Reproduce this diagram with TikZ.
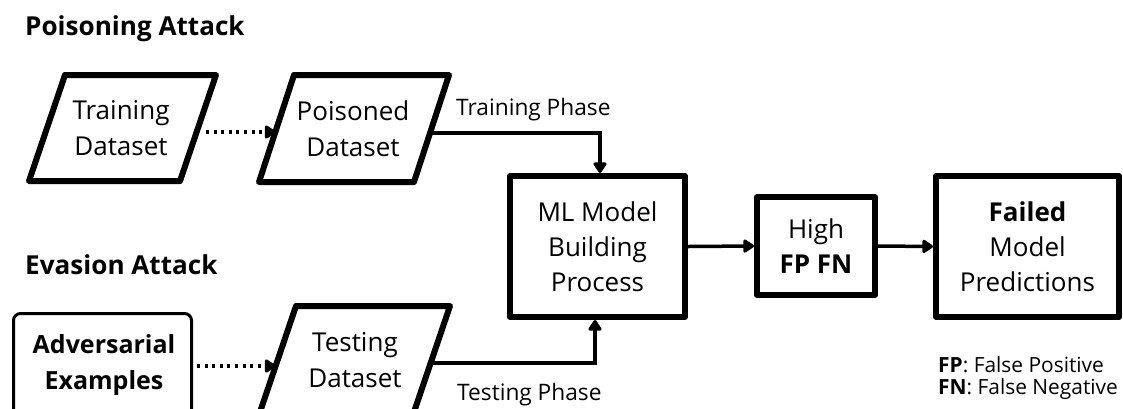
\documentclass[tikz,border=0pt]{standalone}
\usepackage{fontspec}
\setmainfont{Open Sans}
\usetikzlibrary{arrows.meta}
\begin{document}
\begin{tikzpicture}[x=1pt,y=-1pt,
  boxline/.style={line width=6pt,line join=round},
  procbox/.style={draw,boxline,rectangle,align=center,inner sep=0pt,
    font=\fontsize{26}{35}\selectfont},
  txt/.style={align=center,inner sep=0pt,font=\fontsize{26}{36}\selectfont},
  conn/.style={line width=3.5pt,-{Triangle[length=12pt,width=15pt,round]}},
  dotconn/.style={line width=3.5pt,dash pattern=on 3pt off 4.6pt,
    -{Triangle[length=12pt,width=15pt,round]}},
  lbl/.style={anchor=base west,inner sep=0pt,font=\fontsize{22.7}{26}\selectfont},
  legend/.style={anchor=base west,inner sep=0pt,font=\fontsize{20.9}{24}\selectfont},
  ttl/.style={anchor=base west,inner sep=0pt,font=\fontsize{26.1}{30}\selectfont\bfseries}
]
\useasboundingbox (0,0) rectangle (1123,408);
\begin{scope}
\clip (0,0) rectangle (1123,408);
% titles
\node[ttl] (t1) at (25,35) {Poisoning Attack};
\node[ttl] (t2) at (25,274) {Evasion Attack};

% parallelograms
\draw[boxline] (65,75) -- (216,75) -- (180,181) -- (29,181) -- cycle;
\node[txt] (train) at (121,128) {Training\\Dataset};
\draw[boxline] (294,75) -- (449,75) -- (414,182) -- (259,182) -- cycle;
\node[txt] (pois) at (353,129) {Poisoned\\Dataset};
\draw[boxline] (296,306) -- (450,306) -- (414,412) -- (260,412) -- cycle;
\node[txt] (test) at (355,360) {Testing\\Dataset};

% adversarial box
\draw[line width=3pt,rounded corners=7pt] (13.5,313.5) rectangle (191.5,420);
\node[txt,font=\fontsize{25}{36}\selectfont\bfseries] (adv) at (104,365) {Adversarial\\Examples};

% boxes
\node[procbox,minimum width=175pt,minimum height=141pt] (ml) at (597.5,246.5) {ML Model\\Building\\Process};
\node[procbox,minimum width=118pt,minimum height=98pt] (high) at (816,246) {High\\\textbf{FP FN}};
\node[procbox,minimum width=183pt,minimum height=141pt] (fail) at (1027.5,246.5) {\textbf{Failed}\\Model\\Predictions};

% edge coordinates
\coordinate (trainR) at (199,132);
\coordinate (poisL) at (275.5,132);
\coordinate (poisR) at (430,133);
\coordinate (advR) at (195,366);
\coordinate (testL) at (275.6,366);
\coordinate (testR) at (430.6,363);

% connectors
\draw[dotconn] ([xshift=7pt]trainR) -- (poisL);
\draw[dotconn] ([xshift=2pt]advR) -- (testL);
\draw[conn] (poisR) -| ([xshift=2.5pt]ml.north);
\draw[conn] (testR) -| ([xshift=-2.5pt]ml.south);
\draw[conn] (ml.east) -- (high.west);
\draw[conn] (high.east) -- (fail.west);

% labels
\node[lbl] (trl) at (456,115) {Training Phase};
\node[lbl] (tel) at (457,400) {Testing Phase};
\node[legend] (l1) at (938,372) {\textbf{FP}: False Positive};
\node[legend] (l2) at (938,394) {\textbf{FN}: False Negative};
\end{scope}
\end{tikzpicture}
\end{document}
